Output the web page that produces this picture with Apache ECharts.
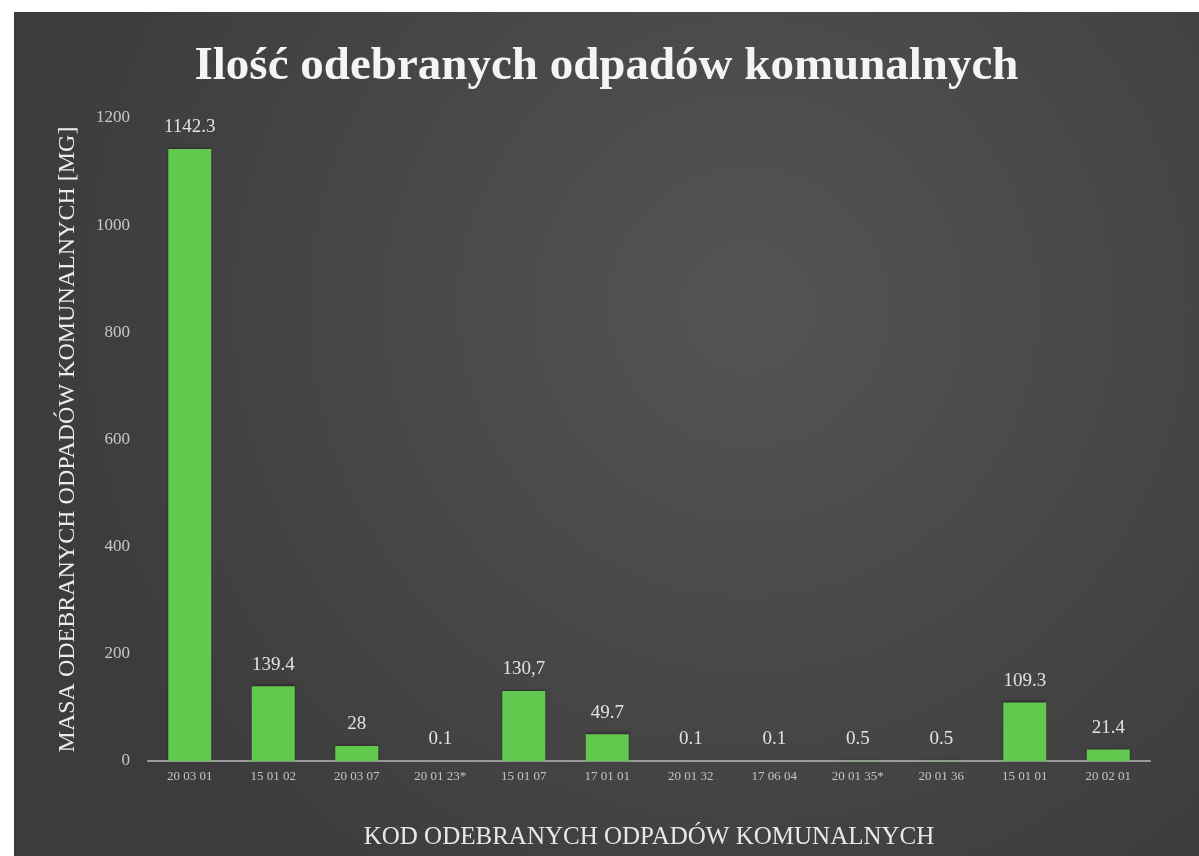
<!DOCTYPE html>
<html>
<head>
<meta charset="utf-8">
<script src="https://cdn.jsdelivr.net/npm/echarts@6/dist/echarts.min.js"></script>
<style>
  html, body { margin: 0; padding: 0; background: #ffffff; }
  #container { position: absolute; left: 14px; top: 12px; width: 1185px; height: 844px; }
</style>
</head>
<body>
<div id="container"></div>
<script type="text/javascript">

var kody = ['20 03 01', '15 01 02', '20 03 07', '20 01 23*', '15 01 07', '17 01 01',
            '20 01 32', '17 06 04', '20 01 35*', '20 01 36', '15 01 01', '20 02 01'];
var masa = [1142.3, 139.4, 28, 0.1, 130.7, 49.7, 0.1, 0.1, 0.5, 0.5, 109.3, 21.4];
// etykiety tak jak na wykresie (130,7 z przecinkiem)
var etykiety = ['1142.3', '139.4', '28', '0.1', '130,7', '49.7', '0.1', '0.1', '0.5', '0.5', '109.3', '21.4'];
var osY = [0, 200, 400, 600, 800, 1000, 1200];

var serif = '"Liberation Serif", "DejaVu Serif", serif';

var mychart = echarts.init(document.getElementById("container"));

var option = {
    backgroundColor: {
        type: 'radial', x: 0.62, y: 0.35, r: 0.85,
        colorStops: [
            { offset: 0, color: '#545454' },
            { offset: 1, color: '#3c3c3c' }
        ]
    },
    title: {
        text: 'Ilość odebranych odpadów komunalnych',
        left: 'center',
        top: 26,
        textStyle: { fontFamily: serif, fontSize: 47, fontWeight: 'bold', color: '#f4f4f4' }
    },
    grid: { left: 134, right: 49, top: 106, bottom: 95 },
    xAxis: {
        type: 'category',
        data: kody,
        name: 'KOD ODEBRANYCH ODPADÓW KOMUNALNYCH',
        nameLocation: 'middle',
        nameGap: 64,
        nameTextStyle: { fontFamily: serif, fontSize: 25, color: '#e8e8e8' },
        axisLine: { lineStyle: { color: '#9a9a9a', width: 2 } },
        axisTick: { show: false },
        axisLabel: { fontFamily: serif, fontSize: 13, color: '#c4c4c4', margin: 9, interval: 0 }
    },
    yAxis: {
        type: 'value',
        min: 0,
        max: 1200,
        interval: 200,
        name: 'MASA ODEBRANYCH ODPADÓW KOMUNALNYCH [MG]',
        nameLocation: 'middle',
        nameGap: 68,
        nameTextStyle: { fontFamily: serif, fontSize: 24, color: '#ececec' },
        axisLine: { show: false },
        axisTick: { show: false },
        splitLine: { show: false },
        axisLabel: {
            fontFamily: serif, fontSize: 17, color: '#c8c8c8', margin: 18,
            formatter: function (v) { return osY.indexOf(v) >= 0 ? String(v) : ''; }
        }
    },
    series: [{
        name: 'masa',
        type: 'bar',
        data: masa,
        barWidth: 43,
        itemStyle: {
            color: '#62c94f',
            shadowColor: 'rgba(0,0,0,0.45)',
            shadowBlur: 3,
            shadowOffsetY: -1
        },
        label: {
            show: true,
            position: 'top',
            distance: 12,
            fontFamily: serif,
            fontSize: 19,
            color: '#e2e2e2',
            formatter: function (p) { return etykiety[p.dataIndex]; }
        }
    }]
};

mychart.setOption(option);

</script>
</body>
</html>
